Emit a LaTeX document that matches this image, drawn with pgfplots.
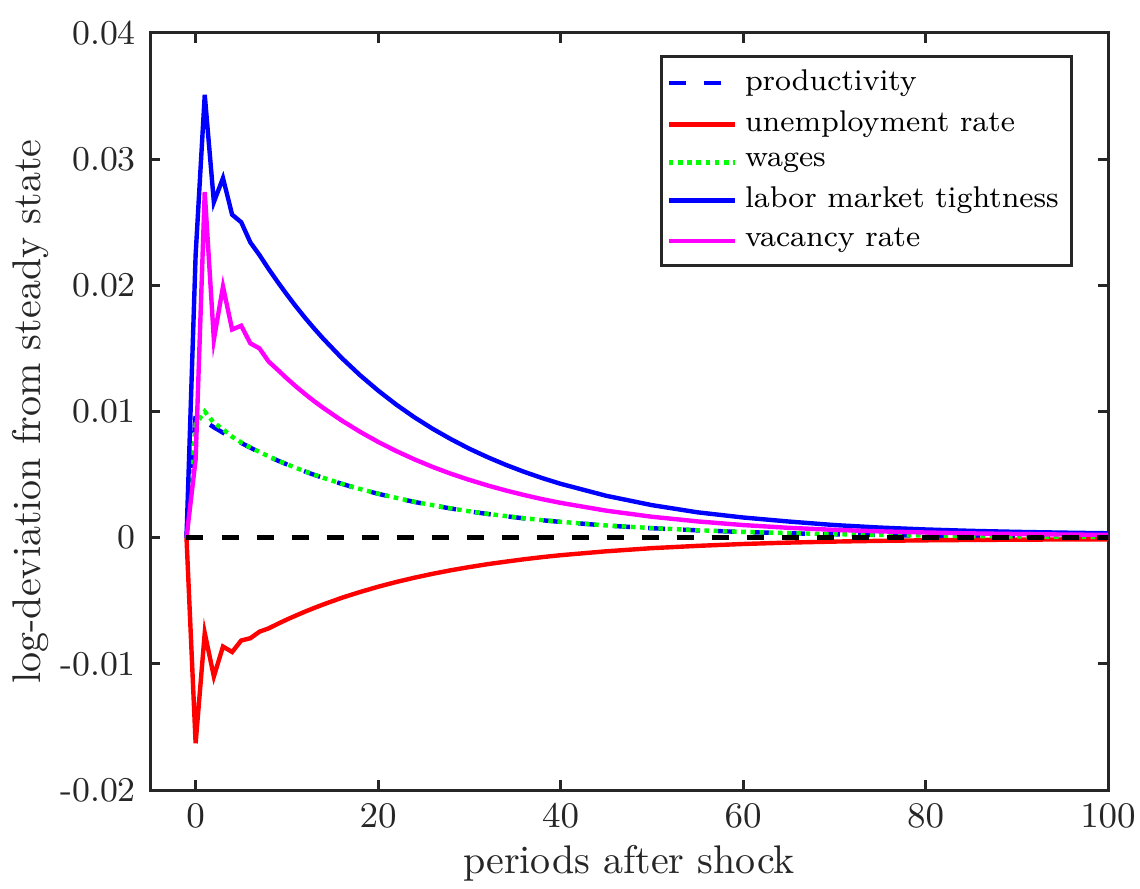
\documentclass[border=0pt]{standalone}
\usepackage{pgfplots}
\usepackage{pgfplotstable}
\pgfplotsset{compat=1.18}
\definecolor{axgray}{gray}{0.15}
\definecolor{mblue}{rgb}{0,0,1}
\definecolor{mred}{rgb}{1,0,0}
\definecolor{mgreen}{rgb}{0,1,0}
\definecolor{mmag}{rgb}{1,0,1}
\pgfplotstableread{
t p u w th v
-1 0 0 0 0 0
0 0.0097 -0.0163 0.0090 0.0224 0.0062
1 0.00922 -0.00755 0.0100 0.0351 0.0274
2 0.00875 -0.0110 0.0091 0.0266 0.0157
3 0.00832 -0.00863 0.0086 0.0285 0.0199
4 0.0079 -0.00906 0.0080 0.0256 0.0165
5 0.00751 -0.00815 0.00755 0.0250 0.0168
6 0.00713 -0.00797 0.00715 0.0234 0.0154
7 0.00677 -0.00745 0.00679 0.0224 0.0150
8 0.00644 -0.00719 0.00645 0.0213 0.01396
9 0.00611 -0.00683 0.00612 0.02026 0.01330
10 0.00581 -0.00649 0.00582 0.01927 0.01262
11 0.00552 -0.00617 0.00553 0.01832 0.01198
12 0.00524 -0.00586 0.00525 0.01742 0.01138
13 0.00498 -0.00557 0.00499 0.01657 0.01081
14 0.00473 -0.00529 0.00474 0.01576 0.01028
16 0.00427 -0.00477 0.00428 0.01425 0.00929
18 0.00385 -0.00431 0.00386 0.01289 0.0084
20 0.00348 -0.00389 0.00349 0.01166 0.00759
22 0.00314 -0.00351 0.00315 0.01054 0.00686
24 0.00283 -0.00317 0.00284 0.00953 0.0062
26 0.00256 -0.00286 0.00257 0.00862 0.0056
28 0.00231 -0.00258 0.00232 0.0078 0.00506
30 0.00208 -0.00233 0.00209 0.00705 0.00458
32 0.00188 -0.0021 0.00189 0.00638 0.00414
34 0.0017 -0.0019 0.00171 0.00577 0.00374
36 0.00153 -0.00171 0.00154 0.00522 0.00338
38 0.00138 -0.00154 0.00139 0.00472 0.00305
40 0.00125 -0.00139 0.00126 0.00427 0.00276
45 0.00096 -0.00108 0.00097 0.00332 0.00214
50 0.00075 -0.00083 0.00076 0.00258 0.00166
55 0.00058 -0.00065 0.00059 0.00201 0.00129
60 0.00045 -0.0005 0.00046 0.0016 0.001
65 0.00035 -0.00039 0.00036 0.00128 0.00078
70 0.00027 -0.00031 0.00028 0.001 0.00062
75 0.00021 -0.00025 0.00022 0.0008 0.0005
80 0.00016 -0.00021 0.00017 0.00065 0.00041
85 0.00012 -0.00018 0.00013 0.00054 0.00034
90 0.0001 -0.00016 0.0001 0.00046 0.00029
95 0.00007 -0.00014 0.00008 0.0004 0.00025
100 0.00006 -0.00013 0.00006 0.00035 0.00022
}\irf
\begin{document}
\begin{tikzpicture}
\begin{axis}[
  scale only axis, width=239.5pt, height=189.25pt,
  xmin=-5, xmax=100, ymin=-0.02, ymax=0.04,
  xtick={0,20,40,60,80,100},
  ytick={-0.02,-0.01,0,0.01,0.02,0.03,0.04},
  yticklabels={-0.02,-0.01,0,0.01,0.02,0.03,0.04},
  scaled y ticks=false,
  tick align=inside, major tick length=2.4pt,
  axis line style={axgray, line width=0.75pt},
  every tick/.style={axgray, line width=0.75pt},
  tick label style={font=\fontsize{8.7}{10}\selectfont, text=axgray},
  label style={font=\fontsize{10}{12}\selectfont, text=axgray},
  xlabel={periods after shock},
  ylabel={log-deviation from steady state},
  xlabel shift=-2.5pt, ylabel shift=-4pt,
  legend cell align=left,
  legend image code/.code={\draw[#1] (0pt,0pt) -- (16.5pt,0pt);},
  legend style={at={(axis description cs:1,1)}, anchor=north east,
    xshift=-8.75pt, yshift=-5.5pt, draw=axgray, line width=0.75pt,
    font=\fontsize{7.5}{9}\selectfont, inner sep=1.2pt, row sep=-0.3pt},
  every axis plot/.append style={line width=1.1pt},
]
\addplot[mblue, dash pattern=on 4.25pt off 4.5pt] table[x=t,y=p] {\irf};
\addlegendentry{productivity}
\addplot[mred] table[x=t,y=u] {\irf};
\addlegendentry{unemployment rate}
\addplot[mgreen, dash pattern=on 1.15pt off 1.15pt] table[x=t,y=w] {\irf};
\addlegendentry{wages}
\addplot[mblue] table[x=t,y=th] {\irf};
\addlegendentry{labor market tightness}
\addplot[mmag] table[x=t,y=v] {\irf};
\addlegendentry{vacancy rate}
\addplot[black, dash pattern=on 4.25pt off 4.5pt, forget plot] coordinates {(-1,0) (100,0)};
\end{axis}
\pgfresetboundingbox
\path (current axis.south west) ++(-37.5pt,-24.5pt) coordinate (bl);
\path (current axis.north east) ++(8pt,8.25pt) coordinate (tr);
\path[use as bounding box] (bl) rectangle (tr);
\end{tikzpicture}
\end{document}
